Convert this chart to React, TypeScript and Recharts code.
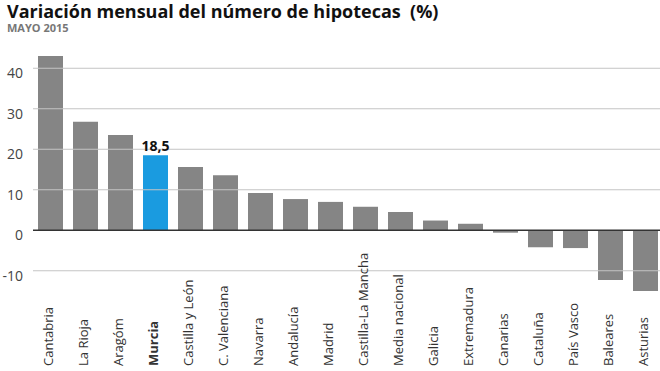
import { Bar, BarChart, Cell, LabelList, ReferenceLine, XAxis, YAxis } from 'recharts'

const regions = [
  'Cantabria',
  'La Rioja',
  'Aragóm',
  'Murcia',
  'Castilla y León',
  'C. Valenciana',
  'Navarra',
  'Andalucía',
  'Madrid',
  'Castilla-La Mancha',
  'Media nacional',
  'Galicia',
  'Extremadura',
  'Canarias',
  'Cataluña',
  'País Vasco',
  'Baleares',
  'Asturias',
]

const variation = [43, 26.8, 23.5, 18.5, 15.6, 13.6, 9.2, 7.7, 7.0, 5.8, 4.5, 2.4, 1.6, -0.6, -4.2, -4.4, -12.3, -15]

const yTicks = [-10, 0, 10, 20, 30, 40]

const highlight = 'Murcia'

const data = regions.map((name, i) => ({ name, value: variation[i] }))

const font = '"Open Sans", sans-serif'

function RegionTick({ x, y, payload }: any) {
  const bold = payload.value === highlight
  const ty = y + 67
  return (
    <text
      x={x + 2}
      y={ty}
      transform={`rotate(-90, ${x + 2}, ${ty})`}
      textAnchor="start"
      fontSize={13}
      fontFamily={font}
      fontWeight={bold ? 700 : 400}
      fill="#333"
    >
      {payload.value}
    </text>
  )
}

function ValueTick({ x, y, payload }: any) {
  return (
    <text x={x - 2} y={y + 5} dy="0.35em" textAnchor="end" fontSize={14} fontFamily={font} fill="#444">
      {payload.value}
    </text>
  )
}

function HighlightLabel({ x, y, width, index }: any) {
  if (regions[index] !== highlight) return null
  return (
    <text x={x + width / 2} y={y - 4} textAnchor="middle" fontSize={14} fontWeight={700} fontFamily={font} fill="#111">
      {String(variation[index]).replace('.', ',')}
    </text>
  )
}

export default function App() {
  return (
    <div style={{ position: 'absolute', left: 0, top: 0, width: 660, height: 371, overflow: 'hidden', background: '#fff', fontFamily: font }}>
      <div
        style={{
          position: 'absolute',
          left: 7,
          top: 1,
          fontSize: 18,
          lineHeight: '20px',
          fontWeight: 700,
          color: '#111',
          whiteSpace: 'pre',
        }}
      >
        {'Variación mensual del número de hipotecas  (%)'}
      </div>
      <div
        style={{
          position: 'absolute',
          left: 7,
          top: 22,
          fontSize: 11,
          lineHeight: '12px',
          fontWeight: 700,
          color: '#777',
        }}
      >
        MAYO 2015
      </div>
      <BarChart width={663} height={371} data={data} margin={{ top: 48, right: 0, bottom: 0, left: 0 }} barSize={25}>
        <XAxis dataKey="name" interval={0} axisLine={false} tickLine={false} height={80} tick={<RegionTick />} />
        <YAxis
          domain={[-15, 45]}
          ticks={yTicks}
          width={33}
          axisLine={false}
          tickLine={false}
          tick={<ValueTick />}
        />
        {yTicks
          .filter((t) => t !== 0)
          .map((t) => (
            <ReferenceLine key={t} y={t} stroke="#c4c4c4" />
          ))}
        <Bar dataKey="value" isAnimationActive={false}>
          {data.map((d) => (
            <Cell key={d.name} fill={d.name === highlight ? '#1a9be0' : '#858585'} />
          ))}
          <LabelList dataKey="value" content={<HighlightLabel />} />
        </Bar>
        <ReferenceLine y={0} stroke="#333" strokeWidth={1.5} />
      </BarChart>
    </div>
  )
}
